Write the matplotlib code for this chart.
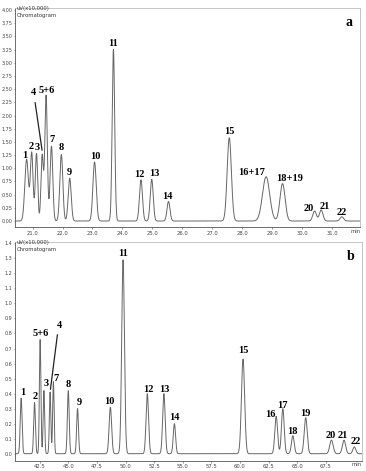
import numpy as np
import matplotlib
matplotlib.use("Agg")
import matplotlib.pyplot as plt
from matplotlib.ticker import FormatStrFormatter

# ---- panel a: peak table (min, uV x10,000, sigma in min)
a_names = ["1", "2", "3", "4", "5+6", "7", "8", "9", "10", "11", "12", "13",
           "14", "15", "16+17", "18+19", "20", "21", "22"]
a_time = [20.80, 20.97, 21.13, 21.32, 21.45, 21.63, 21.96, 22.24, 23.07, 23.70,
          24.62, 24.98, 25.54, 27.57, 28.80, 29.35, 30.42, 30.64, 31.33]
a_height = [1.17, 1.29, 1.28, 1.25, 2.38, 1.42, 1.26, 0.81, 1.12, 3.26,
            0.78, 0.79, 0.37, 1.58, 0.84, 0.71, 0.19, 0.21, 0.08]
a_sigma = [0.06, 0.045, 0.04, 0.04, 0.042, 0.045, 0.05, 0.05, 0.055, 0.042,
           0.05, 0.05, 0.05, 0.07, 0.12, 0.085, 0.06, 0.06, 0.06]

# ---- panel b
b_names = ["1", "2", "5+6", "3", "4", "7", "8", "9", "10", "11", "12", "13",
           "14", "15", "16", "17", "18", "19", "20", "21", "22"]
b_time = [40.87, 42.04, 42.53, 42.86, 43.40, 43.69, 44.99, 45.80, 48.67, 49.78,
          51.90, 53.35, 54.27, 60.27, 63.17, 63.75, 64.62, 65.75, 68.00, 69.10, 70.00]
b_height = [0.37, 0.34, 0.76, 0.42, 0.41, 0.48, 0.42, 0.30, 0.31, 1.29,
            0.40, 0.40, 0.20, 0.63, 0.25, 0.30, 0.12, 0.24, 0.09, 0.09, 0.045]
b_sigma = [0.08, 0.075, 0.065, 0.065, 0.065, 0.065, 0.08, 0.08, 0.11, 0.12,
           0.11, 0.11, 0.10, 0.14, 0.12, 0.12, 0.12, 0.13, 0.15, 0.14, 0.13]

# label anchors (text centre), same order as the peak tables
a_label_x = [20.74, 20.94, 21.16, 21.03, 21.47, 21.66, 21.96, 22.24, 23.09, 23.70,
             24.56, 25.06, 25.51, 27.57, 28.32, 29.57, 30.24, 30.76, 31.33]
a_label_y = [1.25, 1.42, 1.40, 2.43, 2.47, 1.54, 1.39, 0.92, 1.22, 3.37,
             0.89, 0.91, 0.47, 1.69, 0.92, 0.80, 0.23, 0.27, 0.16]
b_label_x = [40.99, 42.09, 42.61, 43.02, 44.18, 43.89, 44.99, 45.92, 48.61, 49.78,
             51.95, 53.40, 54.27, 60.27, 62.70, 63.72, 64.62, 65.74, 67.95, 69.02, 70.13]
b_label_y = [0.41, 0.38, 0.80, 0.47, 0.855, 0.50, 0.46, 0.34, 0.35, 1.33,
             0.43, 0.43, 0.24, 0.686, 0.26, 0.32, 0.15, 0.27, 0.12, 0.12, 0.083]


def trace(t, times, heights, sigmas):
    y = np.zeros_like(t)
    for t0, h, s in zip(times, heights, sigmas):
        y += h * np.exp(-(t - t0) ** 2 / (2 * s ** 2))
    return y


def style_axes(ax, letter, min_x):
    for side in ["top", "right"]:
        ax.spines[side].set_color("#bbbbbb")
    for side in ["left", "bottom"]:
        ax.spines[side].set_color("#555555")
    for sp in ax.spines.values():
        sp.set_linewidth(0.6)
    ax.tick_params(axis="x", which="both", labelsize=3.8, length=1.5, width=0.4,
                   colors="#444444", pad=1.2)
    ax.tick_params(axis="x", which="minor", length=0)
    ax.tick_params(axis="y", labelsize=3.5, length=0.8, width=0.4,
                   colors="#444444", pad=0.6)
    # the "min" unit sits in the tick label row
    ax.set_xticks([min_x], labels=["min"], minor=True)
    ax.text(0.005, 1.0, "uV(x10,000)", transform=ax.transAxes, fontsize=3.8,
            color="#333333", va="center", ha="left")
    ax.text(0.005, 0.965, "Chromatogram", transform=ax.transAxes, fontsize=3.8,
            color="#333333", va="center", ha="left")
    ax.text(0.968, 0.935, letter, transform=ax.transAxes, fontsize=10,
            fontweight="bold", family="Liberation Serif", ha="center", va="center")


fig = plt.figure(figsize=(3.66, 4.71), dpi=100)
lab_font = dict(fontsize=7.5, fontweight="bold", family="Liberation Serif",
                ha="center", va="center")

# ---- panel a
ax1 = fig.add_axes([0.040, 0.518, 0.943, 0.465])
t = np.linspace(20.40, 31.93, 3000)
ax1.plot(t, trace(t, a_time, a_height, a_sigma), color="#666666", lw=0.7)
ax1.set_xlim(20.40, 31.93)
ax1.set_ylim(-0.114, 4.04)
ax1.set_xticks(np.arange(21.0, 31.5, 1.0))
ax1.xaxis.set_major_formatter(FormatStrFormatter("%.1f"))
ax1.set_yticks(np.arange(0, 4.01, 0.25))
ax1.yaxis.set_major_formatter(FormatStrFormatter("%.2f"))
for name, x, y in zip(a_names, a_label_x, a_label_y):
    ax1.text(x, y, name, **lab_font)
i4 = a_names.index("4")
ax1.annotate("", xy=(a_time[i4] + 0.01, a_height[i4] + 0.04), xytext=(21.07, 2.30),
             arrowprops=dict(arrowstyle="-", color="#222222", lw=0.9))
style_axes(ax1, "a", 31.80)

# ---- panel b
ax2 = fig.add_axes([0.040, 0.022, 0.949, 0.464])
t = np.linspace(40.3, 70.67, 4000)
ax2.plot(t, trace(t, b_time, b_height, b_sigma), color="#666666", lw=0.7)
ax2.set_xlim(40.3, 70.67)
ax2.set_ylim(-0.046, 1.408)
ax2.set_xticks(np.arange(42.5, 68.0, 2.5))
ax2.xaxis.set_major_formatter(FormatStrFormatter("%.1f"))
ax2.set_yticks(np.arange(0, 1.41, 0.1))
ax2.yaxis.set_major_formatter(FormatStrFormatter("%.1f"))
for name, x, y in zip(b_names, b_label_x, b_label_y):
    ax2.text(x, y, name, **lab_font)
i4 = b_names.index("4")
ax2.annotate("", xy=(b_time[i4], b_height[i4]), xytext=(44.07, 0.81),
             arrowprops=dict(arrowstyle="-", color="#222222", lw=0.9))
style_axes(ax2, "b", 70.2)

fig.savefig("out.png", dpi=100)
